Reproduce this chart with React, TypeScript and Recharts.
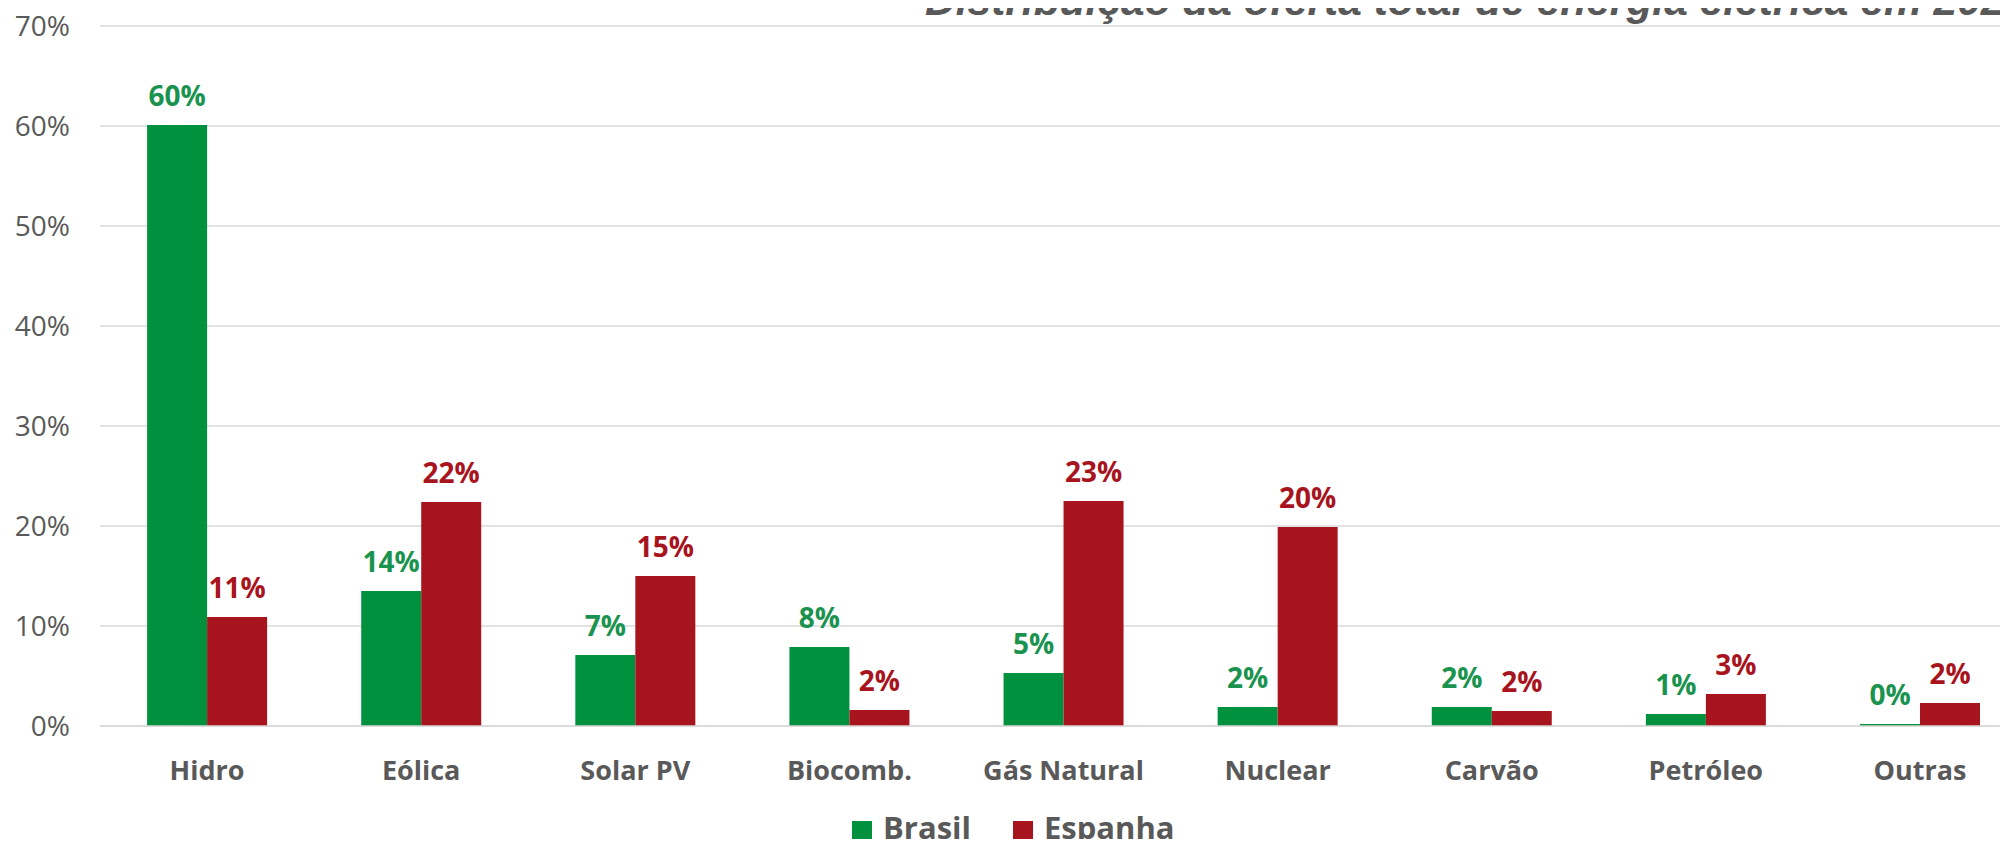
import {
  BarChart,
  Bar,
  XAxis,
  YAxis,
  CartesianGrid,
  Legend,
  LabelList,
} from "recharts";

const categories = [
  "Hidro",
  "Eólica",
  "Solar PV",
  "Biocomb.",
  "Gás Natural",
  "Nuclear",
  "Carvão",
  "Petróleo",
  "Outras",
];
const brasil = [60.1, 13.5, 7.1, 7.9, 5.3, 1.9, 1.9, 1.2, 0.2];
const espanha = [10.9, 22.4, 15.0, 1.6, 22.5, 19.9, 1.5, 3.2, 2.3];
const yTicks = [0, 10, 20, 30, 40, 50, 60, 70];

const GREEN = "#00913f";
const GREEN_TEXT = "#1a934f";
const RED = "#a8141e";
const GREY = "#595959";
const FONT = "'Open Sans', sans-serif";

const data = categories.map((name, i) => ({
  name,
  Brasil: brasil[i],
  Espanha: espanha[i],
}));

const pct = (v: any) => `${Math.round(Number(v))}%`;

function renderLegend() {
  const items = [
    { label: "Brasil", color: GREEN },
    { label: "Espanha", color: RED },
  ];
  return (
    <div style={{ display: "flex", fontFamily: FONT, height: 31 }}>
      {items.map((it) => (
        <div
          key={it.label}
          style={{ display: "flex", alignItems: "center", marginRight: 42 }}
        >
          <span
            style={{
              width: 20,
              height: 20,
              background: it.color,
              display: "inline-block",
              marginRight: 11,
              position: "relative",
              top: 3,
            }}
          />
          <span
            style={{
              fontSize: 31,
              lineHeight: "31px",
              fontWeight: 700,
              color: GREY,
            }}
          >
            {it.label}
          </span>
        </div>
      ))}
    </div>
  );
}

export default function App() {
  return (
    <div
      style={{
        position: "relative",
        width: 2008,
        height: 847,
        overflow: "hidden",
        margin: -8,
        background: "#fff",
      }}
    >
      <div
        style={{
          position: "absolute",
          left: 925,
          top: 15 - 38,
          whiteSpace: "nowrap",
          fontFamily: "'Liberation Sans', Arial, sans-serif",
          fontStyle: "italic",
          fontWeight: 700,
          fontSize: 42.5,
          lineHeight: "48px",
          color: GREY,
          zIndex: 2,
        }}
      >
        Distribuição da oferta total de energia elétrica em 202
      </div>
      <BarChart
        width={2030}
        height={847}
        data={data}
        margin={{ top: 26, right: 3, bottom: 0, left: 0 }}
        barCategoryGap="22%"
        barGap={0}
      >
        <CartesianGrid
          vertical={false}
          stroke="#d9d9d9"
          strokeWidth={1.5}
        />
        <XAxis
          dataKey="name"
          height={121}
          tickLine={false}
          tickSize={0}
          tickMargin={35}
          axisLine={{ stroke: "#d9d9d9", strokeWidth: 1.5 }}
          tick={{
            fill: GREY,
            fontSize: 27,
            fontWeight: 700,
            fontFamily: FONT,
          }}
          interval={0}
        />
        <YAxis
          width={100}
          domain={[0, 70]}
          ticks={yTicks}
          tickFormatter={(v) => `${v}%`}
          axisLine={false}
          tickLine={false}
          tickSize={0}
          tickMargin={30}
          tick={{ fill: GREY, fontSize: 28, fontFamily: FONT }}
        />
        <Legend
          verticalAlign="middle"
          layout="horizontal"
          content={renderLegend}
          wrapperStyle={{ top: 812, left: 852, width: 400 }}
        />
        <Bar dataKey="Brasil" fill={GREEN} isAnimationActive={false}>
          <LabelList
            dataKey="Brasil"
            position="top"
            offset={19}
            formatter={pct}
            style={{
              fill: GREEN_TEXT,
              fontSize: 28,
              fontWeight: 700,
              fontFamily: FONT,
            }}
          />
        </Bar>
        <Bar dataKey="Espanha" fill={RED} isAnimationActive={false}>
          <LabelList
            dataKey="Espanha"
            position="top"
            offset={19}
            formatter={pct}
            style={{
              fill: RED,
              fontSize: 28,
              fontWeight: 700,
              fontFamily: FONT,
            }}
          />
        </Bar>
      </BarChart>
    </div>
  );
}
